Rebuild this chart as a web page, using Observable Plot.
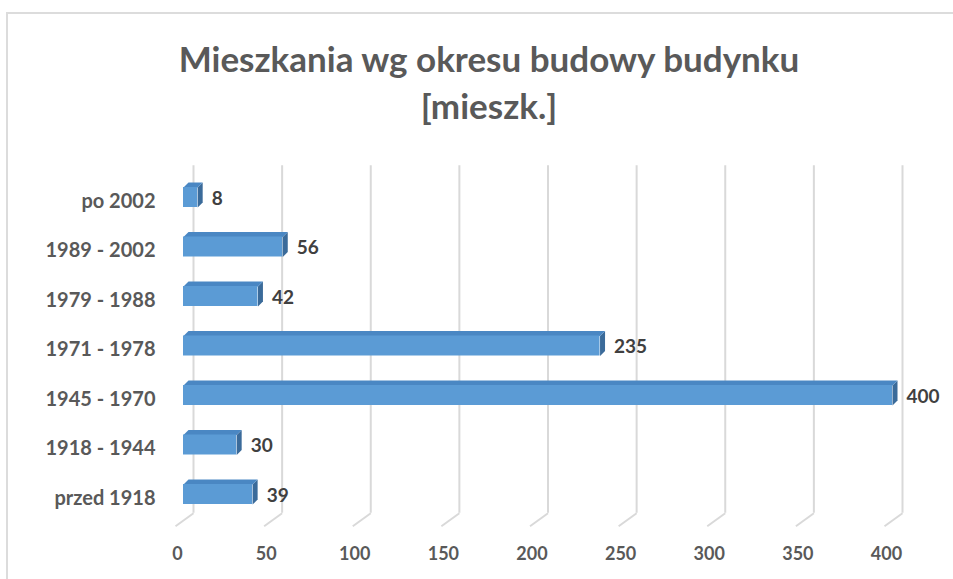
<!DOCTYPE html>
<html>
<head>
<meta charset="utf-8">
<script src="https://cdn.jsdelivr.net/npm/d3@7"></script>
<script src="https://cdn.jsdelivr.net/npm/@observablehq/plot@0.6"></script>
<style>
  html, body { margin: 0; padding: 0; background: #ffffff; }
  body { position: relative; width: 953px; height: 579px; overflow: hidden; font-family: Lato, "Open Sans", sans-serif; }
  #frame { position: absolute; left: 6px; top: 12px; width: 1200px; height: 1200px; border-top: 2px solid #dcdcdc; border-left: 2px solid #dcdcdc; }
  #title { position: absolute; left: 0; top: 35px; width: 978px; text-align: center; font-family: Lato, sans-serif; font-weight: 700; font-size: 35px; line-height: 47px; color: #595959; }
  #chart { position: absolute; left: 0; top: 140px; }
</style>
</head>
<body>
<div id="frame"></div>
<div id="title">Mieszkania wg okresu budowy budynku<br>[mieszk.]</div>
<div id="chart"></div>
<script>
const categories = ["po 2002", "1989 - 2002", "1979 - 1988", "1971 - 1978", "1945 - 1970", "1918 - 1944", "przed 1918"];
const values = [8, 56, 42, 235, 400, 30, 39];
const xTicks = [0, 50, 100, 150, 200, 250, 300, 350, 400];

const W = 953, H = 439;
const mL = 183, mR = 61;
const yRange = [32.25, 378.75];
const kx = (W - mL - mR) / 400;          // px per value unit
const ky = (yRange[1] - yRange[0]) / 7;  // px per category step
const half = 10 / ky;                    // half bar thickness in index units
const dX = 5 / kx, dY = 5 / ky;          // 3D depth

const rows = categories.map((c, i) => ({c, i, v: values[i]}));

const topPts = [], sidePts = [];
rows.forEach(d => {
  const t = d.i - half, b = d.i + half;
  topPts.push({k: d.c, x: 0, y: t}, {k: d.c, x: d.v, y: t}, {k: d.c, x: d.v + dX, y: t - dY}, {k: d.c, x: dX, y: t - dY});
  sidePts.push({k: d.c, x: d.v, y: t}, {k: d.c, x: d.v, y: b}, {k: d.c, x: d.v + dX, y: b - dY}, {k: d.c, x: d.v + dX, y: t - dY});
});

const gridTop = -0.5 - 7 / ky, gridBot = 6.5 - 6 / ky, floorBot = 6.5 + 7 / ky;
const floor = xTicks.map(t => ({x1: t + 10 / kx, x2: t - 8 / kx}));

const chart = Plot.plot({
  width: W,
  height: H,
  marginLeft: mL,
  marginRight: mR,
  marginTop: 0,
  marginBottom: 0,
  style: {fontFamily: "Lato, sans-serif", background: "transparent"},
  x: {domain: [0, 400], axis: null},
  y: {domain: [-0.5, 6.5], range: yRange, axis: null},
  marks: [
    Plot.ruleX(xTicks, {x: d => d, dx: 10, y1: () => gridTop, y2: () => gridBot, stroke: "#d9d9d9", strokeWidth: 2}),
    Plot.link(floor, {x1: "x1", x2: "x2", y1: () => gridBot, y2: () => floorBot, stroke: "#d9d9d9", strokeWidth: 2}),
    Plot.line(sidePts, {x: "x", y: "y", z: "k", fill: "#3b6b9a", stroke: "none"}),
    Plot.line(topPts, {x: "x", y: "y", z: "k", fill: "#4a87c3", stroke: "none"}),
    Plot.rect(rows, {x1: () => 0, x2: "v", y1: d => d.i - half, y2: d => d.i + half, fill: "#5b9bd5"}),
    Plot.text(rows, {x: "v", y: "i", text: d => String(d.v), dx: 14, dy: 1, textAnchor: "start", fontSize: 19, fontWeight: "bold", fill: "#404040"}),
    Plot.text(rows, {x: () => 0, y: "i", text: "c", dx: -28, dy: 4, textAnchor: "end", fontSize: 20, fontWeight: "bold", fill: "#595959"}),
    Plot.text(xTicks, {x: d => d, y: () => floorBot, text: d => String(d), dx: -6, dy: 28, fontSize: 18, fontWeight: "bold", fill: "#595959"})
  ]
});
document.getElementById("chart").appendChild(chart);
</script>
</body>
</html>
